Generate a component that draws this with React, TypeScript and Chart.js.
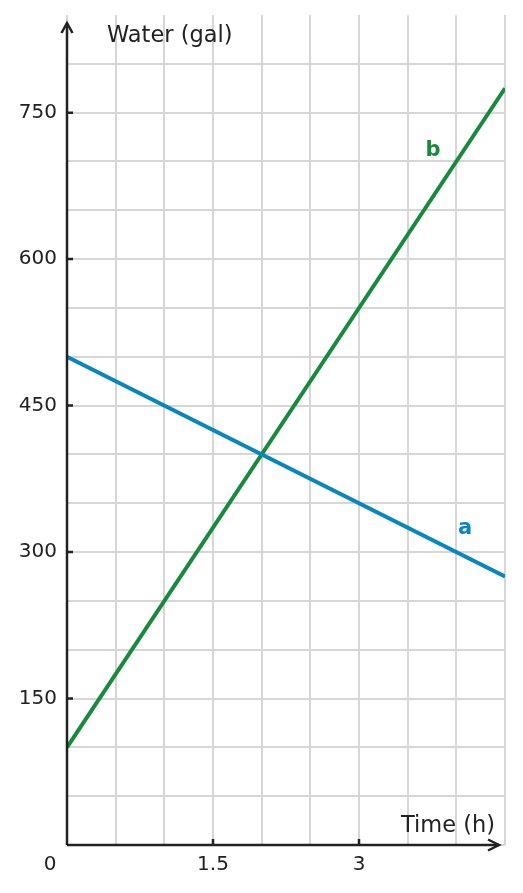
import { useEffect, useRef } from 'react';
import { Chart, registerables } from 'chart.js';

Chart.register(...registerables);

// Data
const times = [0, 4.5];
const waterA = [500, 275];
const waterB = [100, 775];
const seriesNames = ['a', 'b'];
const xTickLabels = [1.5, 3];
const yTickLabels = [150, 300, 450, 600, 750];

const FONT = "'DejaVu Sans', sans-serif";
const AXIS_COLOR = '#222222';
const GRID_COLOR = '#d6d6d6';
const COLORS = ['#0a86be', '#178a3e'];
const Y_MAX = 850;
// where the series names sit, in data units
const NAME_ANCHORS = [
  { x: 4.09, y: 324 },
  { x: 3.76, y: 711 },
];

const axesPlugin = {
  id: 'axesPlugin',
  afterDraw(chart: Chart) {
    const { ctx, chartArea, scales } = chart;
    const xs = scales.x;
    const ys = scales.y;
    const x0 = xs.getPixelForValue(0);
    const y0 = ys.getPixelForValue(0);
    const top = 23;
    const right = chartArea.right - 6;

    ctx.save();
    ctx.strokeStyle = AXIS_COLOR;
    ctx.lineWidth = 2.5;
    ctx.lineCap = 'butt';

    // axis lines
    ctx.beginPath();
    ctx.moveTo(x0, y0);
    ctx.lineTo(x0, top);
    ctx.moveTo(x0, y0);
    ctx.lineTo(right, y0);
    ctx.stroke();

    // arrow heads
    ctx.lineJoin = 'miter';
    ctx.beginPath();
    ctx.moveTo(x0 - 5.5, top + 10);
    ctx.lineTo(x0, top);
    ctx.lineTo(x0 + 5.5, top + 10);
    ctx.moveTo(right - 11, y0 - 5.5);
    ctx.lineTo(right, y0);
    ctx.lineTo(right - 11, y0 + 5.5);
    ctx.stroke();

    // small tick marks at labelled values
    ctx.beginPath();
    yTickLabels.forEach((v) => {
      const y = ys.getPixelForValue(v);
      ctx.moveTo(x0, y);
      ctx.lineTo(x0 + 6, y);
    });
    xTickLabels.forEach((v) => {
      const x = xs.getPixelForValue(v);
      ctx.moveTo(x, y0);
      ctx.lineTo(x, y0 - 6);
    });
    ctx.stroke();

    // axis titles
    ctx.fillStyle = AXIS_COLOR;
    ctx.font = `22.5px ${FONT}`;
    ctx.textBaseline = 'alphabetic';
    ctx.textAlign = 'left';
    ctx.fillText('Water (gal)', x0 + 40, 42);
    ctx.textAlign = 'right';
    ctx.fillText('Time (h)', chartArea.right - 10, y0 - 13);

    // origin label
    ctx.font = `20px ${FONT}`;
    ctx.textAlign = 'center';
    ctx.textBaseline = 'middle';
    ctx.fillText('0', x0 - 17, y0 + 19.5);

    // series names
    ctx.font = `bold 21px ${FONT}`;
    seriesNames.forEach((name, i) => {
      ctx.fillStyle = COLORS[i];
      ctx.fillText(name, xs.getPixelForValue(NAME_ANCHORS[i].x), ys.getPixelForValue(NAME_ANCHORS[i].y));
    });
    ctx.restore();
  },
};

export default function App() {
  const canvasRef = useRef<HTMLCanvasElement>(null);
  const chartRef = useRef<Chart | null>(null);

  useEffect(() => {
    if (!canvasRef.current) return;
    if (chartRef.current) chartRef.current.destroy();

    const toPoints = (vals: number[]) => times.map((t, i) => ({ x: t, y: vals[i] }));

    chartRef.current = new Chart(canvasRef.current, {
      type: 'line',
      data: {
        datasets: [
          {
            label: seriesNames[0],
            data: toPoints(waterA),
            borderColor: COLORS[0],
            borderWidth: 4,
            pointRadius: 0,
            fill: false,
          },
          {
            label: seriesNames[1],
            data: toPoints(waterB),
            borderColor: COLORS[1],
            borderWidth: 4,
            pointRadius: 0,
            fill: false,
          },
        ],
      },
      options: {
        responsive: false,
        animation: false,
        devicePixelRatio: 1,
        layout: { padding: { top: 15, right: 18, left: 0, bottom: 0 } },
        plugins: {
          legend: { display: false },
          tooltip: { enabled: false },
        },
        scales: {
          x: {
            type: 'linear',
            min: 0,
            max: 4.5,
            afterFit: (s: any) => {
              s.height = 48;
            },
            ticks: {
              stepSize: 0.5,
              autoSkip: false,
              maxRotation: 0,
              padding: 8,
              color: AXIS_COLOR,
              font: { family: FONT, size: 20 },
              callback: (v: any) => (xTickLabels.includes(Number(v)) ? String(v) : ''),
            },
            grid: { color: GRID_COLOR, lineWidth: 2, drawTicks: false },
            border: { display: false },
          },
          y: {
            type: 'linear',
            min: 0,
            max: Y_MAX,
            afterFit: (s: any) => {
              s.width = 67;
              s.paddingTop = 0;
              s.paddingBottom = 0;
            },
            ticks: {
              stepSize: 50,
              autoSkip: false,
              maxTicksLimit: 40,
              padding: 10,
              color: AXIS_COLOR,
              font: { family: FONT, size: 20 },
              callback: (v: any) => (yTickLabels.includes(Number(v)) ? String(v) : ''),
            },
            grid: {
              color: (c: any) => (c.tick && c.tick.value < Y_MAX ? GRID_COLOR : 'rgba(0,0,0,0)'),
              lineWidth: 2,
              drawTicks: false,
            },
            border: { display: false },
          },
        },
      },
      plugins: [axesPlugin],
    });

    return () => {
      if (chartRef.current) {
        chartRef.current.destroy();
        chartRef.current = null;
      }
    };
  }, []);

  return (
    <div style={{ position: 'absolute', left: 0, top: 0, width: 523, height: 893, background: '#fff' }}>
      <canvas ref={canvasRef} width={523} height={893} />
    </div>
  );
}
